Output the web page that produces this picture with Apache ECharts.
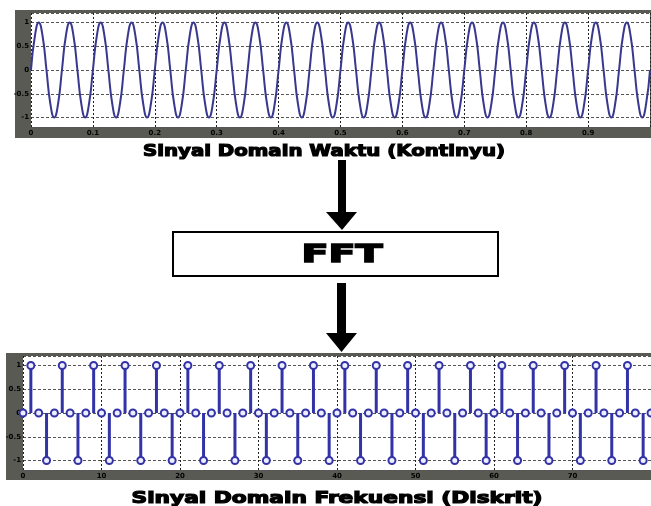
<!DOCTYPE html>
<html><head><meta charset="utf-8">
<script src="https://cdn.jsdelivr.net/npm/echarts@6/dist/echarts.min.js"></script>
<style>html,body{margin:0;padding:0;background:#fff;}#c{width:651px;height:506px;}</style>
</head><body><div id="c"></div>
<script>
// ---- data ----
const timeStep = 0.00625; // seconds between samples of the continuous signal
const timeSignal = [
  0,0.71,1,0.71,0,-0.71,-1,-0.71,
  0,0.71,1,0.71,0,-0.71,-1,-0.71,
  0,0.71,1,0.71,0,-0.71,-1,-0.71,
  0,0.71,1,0.71,0,-0.71,-1,-0.71,
  0,0.71,1,0.71,0,-0.71,-1,-0.71,
  0,0.71,1,0.71,0,-0.71,-1,-0.71,
  0,0.71,1,0.71,0,-0.71,-1,-0.71,
  0,0.71,1,0.71,0,-0.71,-1,-0.71,
  0,0.71,1,0.71,0,-0.71,-1,-0.71,
  0,0.71,1,0.71,0,-0.71,-1,-0.71,
  0,0.71,1,0.71,0,-0.71,-1,-0.71,
  0,0.71,1,0.71,0,-0.71,-1,-0.71,
  0,0.71,1,0.71,0,-0.71,-1,-0.71,
  0,0.71,1,0.71,0,-0.71,-1,-0.71,
  0,0.71,1,0.71,0,-0.71,-1,-0.71,
  0,0.71,1,0.71,0,-0.71,-1,-0.71,
  0,0.71,1,0.71,0,-0.71,-1,-0.71,
  0,0.71,1,0.71,0,-0.71,-1,-0.71,
  0,0.71,1,0.71,0,-0.71,-1,-0.71,
  0,0.71,1,0.71,0,-0.71,-1,-0.71,
  0
];
const freqValues = [
  0,1,0,-1, 0,1,0,-1, 0,1,0,-1, 0,1,0,-1, 0,1,0,-1,
  0,1,0,-1, 0,1,0,-1, 0,1,0,-1, 0,1,0,-1, 0,1,0,-1,
  0,1,0,-1, 0,1,0,-1, 0,1,0,-1, 0,1,0,-1, 0,1,0,-1,
  0,1,0,-1, 0,1,0,-1, 0,1,0,-1, 0,1,0,-1, 0,1,0,-1,
  0
];
const timeTickLabels = ['0','0.1','0.2','0.3','0.4','0.5','0.6','0.7','0.8','0.9','1'];
const freqTickLabels = ['0','10','20','30','40','50','60','70','80'];
const ampTickLabels = ['-1','-0.5','0','0.5','1'];
const titleTop = 'Sinyal Domain Waktu (Kontinyu)';
const titleBottom = 'Sinyal Domain Frekuensi (Diskrit)';
const boxLabel = 'FFT';

// ---- styling helpers ----
const FONT = '"DejaVu Sans", "Liberation Sans", sans-serif';
const mctx = document.createElement('canvas').getContext('2d');
function sx(text, size, target) {
  mctx.font = 'bold ' + size + 'px ' + FONT;
  return target / mctx.measureText(text).width;
}
const lineBlue = '#38388e';
const stemBlue = '#3333a8';
const frameGrey = '#5a5a54';
const axisLabel = { color: '#000', fontSize: 7, fontWeight: 'bold', fontFamily: FONT, margin: 3 };
const splitV = { show: true, lineStyle: { color: '#222', type: [2, 2], width: 1 } };
const splitH = { show: true, lineStyle: { color: '#555', type: [3, 2], width: 1 } };

function ampFmt(v) { const i = Math.round((v + 1) / 0.5); return ampTickLabels[i] !== undefined && Math.abs(v) <= 1.0001 ? ampTickLabels[i] : ''; }

const option = {
  animation: false,
  backgroundColor: '#fff',
  grid: [
    { left: 31, top: 13, width: 619, height: 114, show: true, backgroundColor: '#fff', borderWidth: 0 },
    { left: 23, top: 356, width: 633, height: 114, show: true, backgroundColor: '#fff', borderWidth: 0 }
  ],
  xAxis: [
    { type: 'value', gridIndex: 0, min: 0, max: 1, interval: 0.1,
      axisLine: { show: false }, axisTick: { show: false }, splitLine: splitV,
      axisLabel: Object.assign({}, axisLabel, { showMaxLabel: false, formatter: v => timeTickLabels[Math.round(v * 10)] }) },
    { type: 'value', gridIndex: 1, min: 0, max: 80, interval: 10,
      axisLine: { show: false }, axisTick: { show: false }, splitLine: splitV,
      axisLabel: Object.assign({}, axisLabel, { showMaxLabel: false, formatter: v => freqTickLabels[Math.round(v / 10)] }) }
  ],
  yAxis: [
    { type: 'value', gridIndex: 0, min: -1.2, max: 1.2,
      axisLine: { show: false }, axisTick: { show: false }, splitLine: splitH,
      axisLabel: Object.assign({}, axisLabel, { margin: 2, showMinLabel: false, showMaxLabel: false, formatter: ampFmt }) },
    { type: 'value', gridIndex: 1, min: -1.2, max: 1.2,
      axisLine: { show: false }, axisTick: { show: false }, splitLine: splitH,
      axisLabel: Object.assign({}, axisLabel, { margin: 2, showMinLabel: false, showMaxLabel: false, formatter: ampFmt }) }
  ],
  series: [
    { type: 'line', xAxisIndex: 0, yAxisIndex: 0, smooth: 0.5, showSymbol: false,
      lineStyle: { color: lineBlue, width: 2 },
      data: timeSignal.map((v, i) => [i * timeStep, v]) },
    { type: 'bar', xAxisIndex: 1, yAxisIndex: 1, barWidth: 3,
      itemStyle: { color: stemBlue },
      data: freqValues.map((v, i) => [i, v]) },
    { type: 'scatter', xAxisIndex: 1, yAxisIndex: 1, symbol: 'circle', symbolSize: 7,
      itemStyle: { color: '#eef', borderColor: stemBlue, borderWidth: 2, opacity: 1 },
      data: freqValues.map((v, i) => [i, v]) }
  ],
  graphic: [
    { type: 'rect', z: -5, shape: { x: 15, y: 10, width: 636, height: 128 }, style: { fill: frameGrey } },
    { type: 'rect', z: -5, shape: { x: 6, y: 353, width: 645, height: 127 }, style: { fill: frameGrey } },
    // titles
    { type: 'text', z: 10, x: 324, y: 152, scaleX: sx(titleTop, 16, 362),
      style: { text: titleTop, x: 0, y: 0, textAlign: 'center', textVerticalAlign: 'middle',
        font: 'bold 16px ' + FONT, fill: '#000', stroke: '#000', lineWidth: 1.2 } },
    { type: 'text', z: 10, x: 337, y: 499, scaleX: sx(titleBottom, 16, 411),
      style: { text: titleBottom, x: 0, y: 0, textAlign: 'center', textVerticalAlign: 'middle',
        font: 'bold 16px ' + FONT, fill: '#000', stroke: '#000', lineWidth: 1.2 } },
    // arrow 1
    { type: 'rect', z: 10, shape: { x: 338, y: 160, width: 8, height: 53 }, style: { fill: '#000' } },
    { type: 'polygon', z: 10, shape: { points: [[326, 212], [357, 212], [342, 230]] }, style: { fill: '#000' } },
    // FFT box
    { type: 'rect', z: 10, shape: { x: 173, y: 232, width: 325, height: 44 }, style: { fill: '#fff', stroke: '#000', lineWidth: 2 } },
    { type: 'text', z: 11, x: 342, y: 255, scaleX: sx(boxLabel, 25, 81),
      style: { text: boxLabel, x: 0, y: 0, textAlign: 'center', textVerticalAlign: 'middle',
        font: 'bold 25px ' + FONT, fill: '#000', stroke: '#000', lineWidth: 1.5 } },
    // arrow 2
    { type: 'rect', z: 10, shape: { x: 337, y: 283, width: 9, height: 51 }, style: { fill: '#000' } },
    { type: 'polygon', z: 10, shape: { points: [[326, 333], [357, 333], [341.5, 352]] }, style: { fill: '#000' } }
  ]
};
const chart = echarts.init(document.getElementById('c'), null, { renderer: 'canvas' });
chart.setOption(option);
</script>
</body></html>
